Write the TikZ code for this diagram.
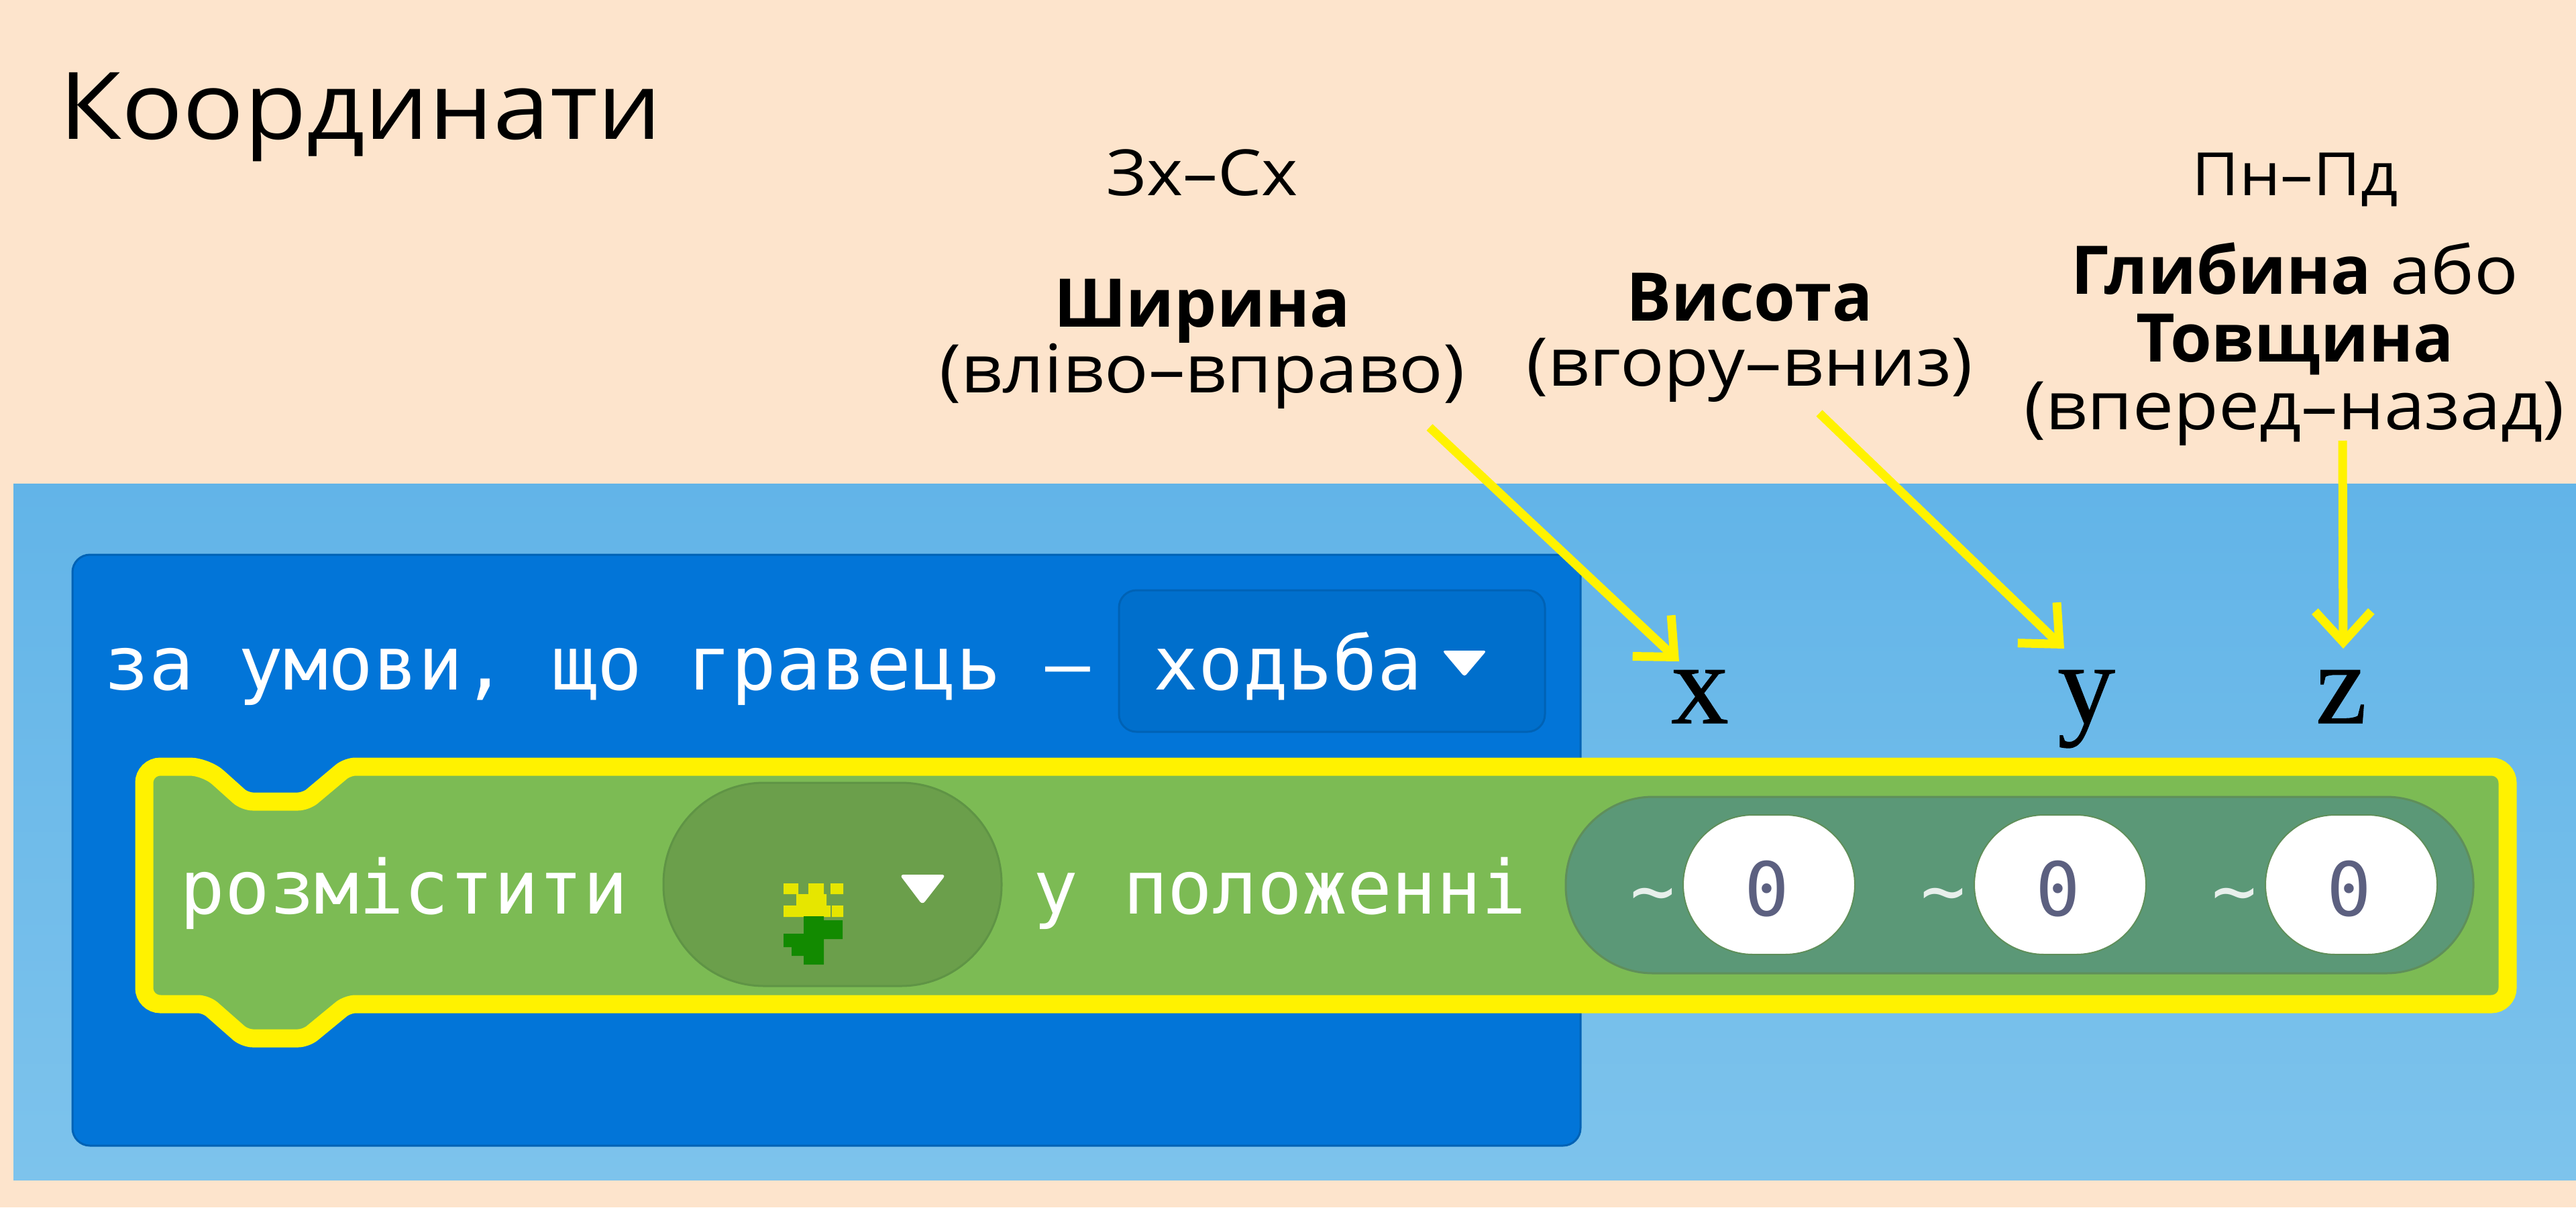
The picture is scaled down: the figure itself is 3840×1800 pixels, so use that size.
\documentclass[tikz,border=0pt]{standalone}
\usepackage{fontspec}
\usetikzlibrary{arrows.meta}
\setmainfont{Open Sans}[UprightFeatures={FakeStretch=1.09},BoldFont=* Bold]
\newfontfamily\blockfont{DejaVu Sans Mono}
\newfontfamily\axisfont{Liberation Serif}[FakeBold=0.6]
\definecolor{peach}{HTML}{FDE4CC}
\definecolor{paneltop}{HTML}{62B4E8}
\definecolor{panelbot}{HTML}{7DC3EC}
\definecolor{blockblue}{HTML}{0275D8}
\definecolor{blockedge}{HTML}{0062B5}
\definecolor{fieldblue}{HTML}{006FCC}
\definecolor{yell}{HTML}{FFF200}
\definecolor{leaf}{HTML}{7CBB54}
\definecolor{dropgreen}{HTML}{6B9F4B}
\definecolor{dropedge}{HTML}{5F9445}
\definecolor{pillgreen}{HTML}{5B9877}
\definecolor{pilledge}{HTML}{5F8F5A}
\definecolor{zerocol}{HTML}{5C6080}
\definecolor{flowery}{HTML}{E6E600}
\definecolor{flowerg}{HTML}{128A00}
\tikzset{
  lbl/.style={anchor=base,inner sep=0pt,text=black,font=\fontsize{50}{50}\selectfont},
  lblb/.style={anchor=base,inner sep=0pt,text=black,font=\fontsize{50}{50}\selectfont\bfseries},
  blk/.style={anchor=base west,inner sep=0pt,text=white,font=\blockfont\fontsize{55.5}{55.5}\selectfont},
  zero/.style={anchor=center,inner sep=0pt,text=zerocol,font=\blockfont\fontsize{55.5}{55.5}\selectfont},
  tld/.style={anchor=base west,inner sep=0pt,text=white!85!pillgreen,font=\blockfont\fontsize{55.5}{55.5}\selectfont},
  axis/.style={anchor=base,inner sep=0pt,text=black,font=\axisfont\fontsize{86}{86}\selectfont},
  arr/.style={draw=yell,line width=6.5pt,-{Straight Barb[length=23pt,width=42pt]}},
  whitepill/.style={fill=white,draw=pilledge,line width=1pt,rounded corners=52pt},
}
\begin{document}
\begin{tikzpicture}[x=0.5pt,y=-0.5pt]
\useasboundingbox (0,0) rectangle (3840,1800);
\fill[peach] (0,0) rectangle (3840,1800);
\shade[top color=paneltop,bottom color=panelbot] (20,721) rectangle (3840,1759);
% outer block
\draw[fill=blockblue,draw=blockedge,line width=1.5pt,rounded corners=13pt] (108,827) rectangle (2356,1708);
\draw[fill=fieldblue,draw=blockedge,line width=1.5pt,rounded corners=13pt] (1668,880) rectangle (2303,1091);
\node[blk] (cond) at (155,1028) {за умови, що гравець –};
\node[blk] (walk) at (1719,1028) {ходьба};
\fill[white,rounded corners=2pt] (2150,970) -- (2216,970) -- (2183,1009) -- cycle;
% green block
\draw[fill=leaf,draw=yell,line width=13.5pt,rounded corners=5pt]
  [rounded corners=12pt] (215,1300) -- (215,1143) -- (307,1143)
  [rounded corners=6pt] -- (365,1195) -- (456,1195) -- (518,1143)
  [rounded corners=12pt] -- (3738,1143) -- (3738,1497)
  [rounded corners=6pt] -- (518,1497) -- (456,1548) -- (365,1548) -- (307,1497)
  [rounded corners=12pt] -- (215,1497) -- cycle;
\node[blk] (place) at (268,1362) {розмістити};
\node[blk] (pos) at (1540,1362) {у положенні};
% dropdown with flower
\draw[fill=dropgreen,draw=dropedge,line width=1.5pt,rounded corners=75pt] (989,1167) rectangle (1493,1470);
\fill[white,rounded corners=3pt] (1341,1304) -- (1410,1304) -- (1375,1349) -- cycle;
\fill[flowery] (1168,1317) rectangle (1190,1333) (1205,1317) rectangle (1228,1333) (1238,1317) rectangle (1257,1333)
  (1187,1333) rectangle (1232,1350) (1168,1350) rectangle (1238,1367) (1240,1350) rectangle (1257,1367);
\fill[flowerg] (1198,1366) rectangle (1228,1438) (1168,1392) rectangle (1200,1412) (1180,1412) rectangle (1200,1425)
  (1226,1372) rectangle (1256,1400);
% xyz field
\draw[fill=pillgreen,draw=pilledge,line width=1.5pt,rounded corners=65pt] (2334,1188) rectangle (3687,1451);
\draw[whitepill] (2509,1215) rectangle (2765,1423);
\draw[whitepill] (2943,1215) rectangle (3199,1423);
\draw[whitepill] (3377,1215) rectangle (3633,1423);
\node[tld] (t1) at (2430,1366) {\textasciitilde};
\node[tld] (t2) at (2863,1366) {\textasciitilde};
\node[tld] (t3) at (3297,1366) {\textasciitilde};
\node[zero] (z1) at (2634,1325) {0};
\node[zero] (z2) at (3068,1325) {0};
\node[zero] (z3) at (3502,1325) {0};
% title and labels
\node[anchor=base west,inner sep=0pt,text=black,font=\fontsize{69.5}{69.5}\selectfont] (title) at (88,207) {Координати};
\node[lbl,font=\fontsize{47.5}{47.5}\selectfont] (ew) at (1792,291) {Зх–Сх};
\node[lblb] (w1) at (1792,487) {Ширина};
\node[lbl] (w2) at (1792,585) {(вліво–вправо)};
\node[lblb] (h1) at (2608,478) {Висота};
\node[lbl] (h2) at (2608,575) {(вгору–вниз)};
\node[lbl,font=\fontsize{44.5}{44.5}\selectfont] (ns) at (3421,291) {Пн–Пд};
\node[lbl] (d1) at (3421,438) {\textbf{Глибина} або};
\node[lblb] (d2) at (3421,539) {Товщина};
\node[lbl] (d3) at (3420,640) {(вперед–назад)};
\node[axis] (xx) at (2534,1078) {x};
\node[axis] (yy) at (3110,1078) {y};
\node[axis] (zz) at (3490,1078) {z};
% arrows
\coordinate (xs) at (2131,637);
\coordinate (xt) at (2503,986);
\coordinate (ys) at (2712,616);
\coordinate (yt) at (3077,967);
\coordinate (zs) at (3492,657);
\coordinate (zt) at (3493,967);
\draw[arr] (xs) -- (xt);
\draw[arr] (ys) -- (yt);
\draw[arr] (zs) -- (zt);
\end{tikzpicture}
\end{document}
